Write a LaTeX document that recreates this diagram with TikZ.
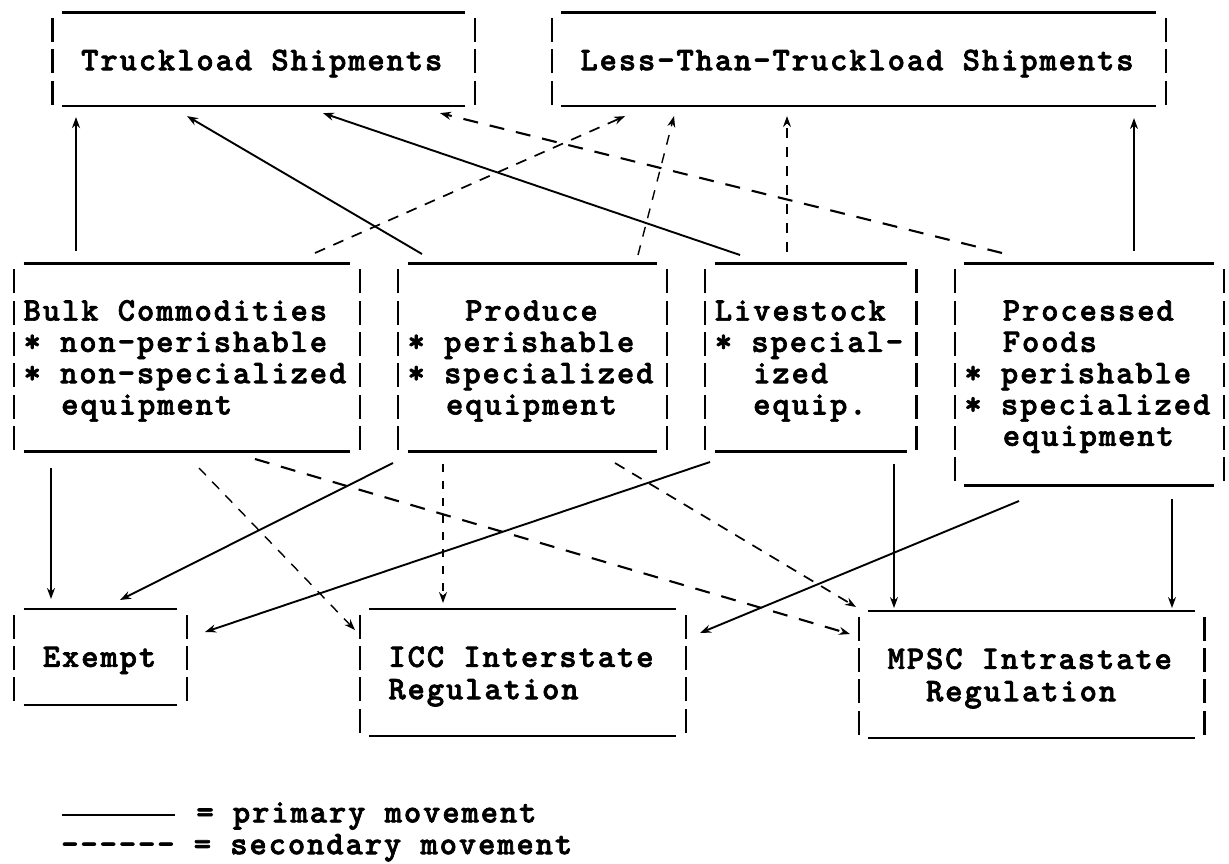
\documentclass[tikz,border=0pt]{standalone}
\usepackage{fontspec}
\usetikzlibrary{arrows.meta}
% typewriter face for all labels
\newfontfamily\tw{lmmonolt10-bold}[Extension=.otf, LetterSpace=5.7, FakeBold=2]

\tikzset{
  boxarea/.style={rectangle, inner sep=0pt, outer sep=0pt, draw=none, anchor=north west},
  txt/.style={anchor=base west, inner sep=0pt, outer sep=0pt, font=\tw\fontsize{33pt}{31.3pt}\selectfont},
  uline/.style={line width=2.6pt},
  vbar/.style={line width=2.2pt},
  tip/.style={-{Stealth[length=11pt,width=8pt]}},
  prim/.style={tip, line width=1.9pt},
  primthin/.style={tip, line width=1.3pt},
  secA/.style={tip, line width=2.1pt, dash pattern=on 15pt off 12pt},
  secB/.style={tip, line width=1.7pt, dash pattern=on 11pt off 9pt},
  secC/.style={tip, line width=1.4pt, dash pattern=on 10pt off 9pt},
  secD/.style={tip, line width=1.3pt, dash pattern=on 8pt off 9pt},
}

% top rule, bottom rule and the row-by-row side bars of a typed box
\newcommand\typeframe[2]{%
  \draw[uline] ([xshift=9.6pt]#1.north west) -- ([xshift=-9.6pt]#1.north east);
  \draw[uline] ([xshift=9.6pt]#1.south west) -- ([xshift=-9.6pt]#1.south east);
  \foreach \k in {1,...,#2}{%
    \pgfmathsetmacro\yb{31.3*\k-1.6}%
    \draw[vbar] ([yshift=-\yb pt]#1.north west) -- ++(0,-24);
    \draw[vbar] ([yshift=-\yb pt]#1.north east) -- ++(0,-24);
  }%
}

\begin{document}
\begin{tikzpicture}[x=1pt, y=-1pt]
\useasboundingbox (0,0) rectangle (1229,863);

% ---- boxes ----
\node[boxarea, minimum width=422.4pt, minimum height=93.9pt]  (trk)  at (52.4,12.2) {};
\node[boxarea, minimum width=614.4pt, minimum height=93.9pt]  (ltl)  at (551.6,12.2) {};
\node[boxarea, minimum width=345.6pt, minimum height=187.8pt] (bulk) at (14,263.6) {};
\node[boxarea, minimum width=268.8pt, minimum height=187.8pt] (prod) at (398,263.6) {};
\node[boxarea, minimum width=211.2pt, minimum height=187.8pt] (live) at (705.2,263.6) {};
\node[boxarea, minimum width=268.8pt, minimum height=222.1pt] (proc) at (954.8,263.6) {};
\node[boxarea, minimum width=172.8pt, minimum height=95.9pt]  (exm)  at (14,608.9) {};
\node[boxarea, minimum width=326.4pt, minimum height=127.2pt] (icc)  at (359.6,608.9) {};
\node[boxarea, minimum width=345.6pt, minimum height=127.2pt] (mpsc) at (858.8,610.9) {};

\typeframe{trk}{3}
\typeframe{ltl}{3}
\typeframe{bulk}{6}
\typeframe{prod}{6}
\typeframe{live}{6}
\typeframe{proc}{7}
\typeframe{exm}{3}
\typeframe{icc}{4}
\typeframe{mpsc}{4}

% ---- box texts ----
\node[txt] (trk-a) at (81.2,70.2) {Truckload Shipments};
\node[txt] (ltl-a) at (580.4,70.2) {Less-Than-Truckload Shipments};

\node[txt] (bulk-a) at (23.6,320.6) {Bulk Commodities};
\node[txt] (bulk-b) at (23.6,351.9) {* non-perishable};
\node[txt] (bulk-c) at (23.6,383.2) {* non-specialized};
\node[txt] (bulk-d) at (61.2,414.5) {equipment};

\node[txt] (prod-a) at (465.2,320.6) {Produce};
\node[txt] (prod-b) at (407.6,351.9) {* perishable};
\node[txt] (prod-c) at (407.6,383.2) {* specialized};
\node[txt] (prod-d) at (446,414.5) {equipment};

\node[txt] (live-a) at (714.8,320.6) {Livestock};
\node[txt] (live-b) at (714.8,351.9) {* special-};
\node[txt] (live-c) at (753.2,383.2) {ized};
\node[txt] (live-d) at (753.2,414.5) {equip.};

\node[txt] (proc-a) at (1002.8,320.6) {Processed};
\node[txt] (proc-b) at (1002.8,351.9) {Foods};
\node[txt] (proc-c) at (964.4,383.2) {* perishable};
\node[txt] (proc-d) at (964.4,414.5) {* specialized};
\node[txt] (proc-e) at (1002.8,445.8) {equipment};

\node[txt] (exm-a) at (42.8,666.9) {Exempt};
\node[txt] (icc-a) at (388.4,666.9) {ICC Interstate};
\node[txt] (icc-b) at (388.4,699.2) {Regulation};
\node[txt] (mpsc-a) at (887.6,668.9) {MPSC Intrastate};
\node[txt] (mpsc-b) at (926,701.2) {Regulation};

% ---- movements up to the shipment boxes ----
\draw[prim] ([shift={(62,-12.6)}]bulk.north west) -- ([shift={(23.6,11)}]trk.south west);
\draw[prim] ([shift={(24,-9.6)}]prod.north west) -- ([shift={(134.6,10)}]trk.south west);
\draw[prim] ([shift={(34.8,-8.6)}]live.north west) -- ([shift={(270.6,7)}]trk.south west);
\draw[secA] ([shift={(47.2,-10.6)}]proc.north west) -- ([shift={(387.6,7)}]trk.south west);
\draw[secB] ([shift={(301,-10.6)}]bulk.north west) -- ([shift={(73.4,10)}]ltl.south west);
\draw[secC] ([shift={(240,-8.6)}]prod.north west) -- ([shift={(122.4,10)}]ltl.south west);
\draw[secC] ([shift={(81.8,-11.6)}]live.north west) -- ([shift={(235.4,10)}]ltl.south west);
\draw[primthin] ([shift={(179.2,-12.6)}]proc.north west) -- ([shift={(582.4,12)}]ltl.south west);

% ---- movements down to the regulation boxes ----
\draw[prim] ([shift={(37,16.6)}]bulk.south west) -- ([shift={(37,-9.9)}]exm.north west);
\draw[prim] ([shift={(-5,11.6)}]prod.south west) -- ([shift={(106,-8.9)}]exm.north west);
\draw[prim] ([shift={(4.8,10.6)}]live.south west) -- ([shift={(18.2,23.1)}]exm.north east);
\draw[prim] ([shift={(64.2,15.3)}]proc.south west) -- ([shift={(14,24.1)}]icc.north east);
\draw[secD] ([shift={(45,12.6)}]prod.south west) -- ([shift={(83.4,-5.9)}]icc.north west);
\draw[secC] ([shift={(185,16.6)}]bulk.south west) -- ([shift={(-4.6,21.1)}]icc.north west);
\draw[secA] ([shift={(241,7.6)}]bulk.south west) -- ([shift={(-8.8,23.1)}]mpsc.north west);
\draw[secB] ([shift={(217,11.6)}]prod.south west) -- ([shift={(-2.8,-3.9)}]mpsc.north west);
\draw[primthin] ([shift={(188.8,12.6)}]live.south west) -- ([shift={(35.2,-2.9)}]mpsc.north west);
\draw[primthin] ([shift={(217.2,13.3)}]proc.south west) -- ([shift={(313.2,-2.9)}]mpsc.north west);

% ---- legend ----
\coordinate (keyA) at (62,815.4);
\coordinate (keyB) at (175,815.4);
\draw[line width=2pt] (keyA) -- (keyB);
\node[txt] (key-a) at (196.4,822.4) {= primary movement};
\node[txt] (key-b) at (61.2,854.2) {------ = secondary movement};
\end{tikzpicture}
\end{document}
